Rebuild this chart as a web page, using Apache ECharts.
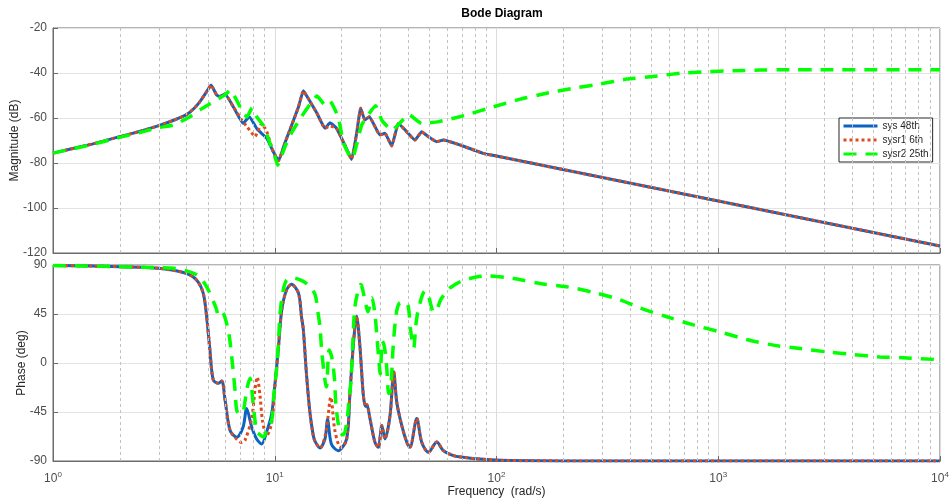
<!DOCTYPE html>
<html><head><meta charset="utf-8">
<script src="https://cdn.jsdelivr.net/npm/echarts@6/dist/echarts.min.js"></script>
<style>html,body{margin:0;padding:0;background:#fff}#c{width:951px;height:504px}</style>
</head><body><div id="c"></div>
<script>
// ---- data (frequency rad/s, value) ----
const seriesNames = ['sys 48th', 'sysr1 6th', 'sysr2 25th'];
const yTicksMag = [-120, -100, -80, -60, -40, -20];
const yTicksPhase = [-90, -45, 0, 45, 90];
const minorFreqs = [2,3,4,5,6,7,8,9,20,30,40,50,60,70,80,90,200,300,400,500,600,700,800,900,2000,3000,4000,5000,6000,7000,8000,9000];

const sysMag = [[1,-75.6],[1.5,-71.6],[2,-68.3],[2.5,-65.8],[3,-63.4],[3.5,-61],[4,-58.5],[4.3,-56],[4.6,-52.7],[4.93,-48.3],[5.16,-45.3],[5.47,-49.8],[5.66,-50.5],[5.97,-49.3],[6.5,-55],[7.2,-62.4],[7.68,-59.4],[8.34,-65],[9.2,-69],[9.85,-75],[10.4,-79],[11.1,-71.2],[11.7,-65.3],[12.8,-55],[13.45,-47.9],[14.1,-51],[15.5,-57.9],[16.85,-64.6],[17.75,-62.1],[19,-64.6],[20.7,-72],[22.2,-78.4],[23.4,-66.8],[24.4,-55.7],[25.5,-60.9],[26.7,-59.4],[29.8,-67.6],[31.4,-66.8],[33.7,-72.4],[36.1,-62.4],[38.7,-65.3],[42.9,-69.8],[46,-66.1],[49.3,-68.3],[53.8,-70.5],[57.6,-69.8],[68.5,-72],[87,-75.7],[100,-76.9],[1000,-96.9],[10000,-116.9]];

const sysr1Mag = [[1,-75.6],[1.5,-71.6],[2,-68.3],[2.5,-65.8],[3,-63.4],[3.5,-61],[4,-58.5],[4.3,-56],[4.6,-52.7],[4.93,-48.3],[5.16,-45.3],[5.47,-49.8],[5.66,-50.5],[5.97,-49.3],[6.5,-55],[7.1,-60.9],[7.5,-63.9],[8.15,-68.3],[8.73,-62.4],[9.2,-66],[9.85,-75],[10.4,-79],[11.1,-71.2],[11.7,-65.3],[12.8,-55],[13.45,-47.9],[14.1,-51],[15.5,-57.9],[16.85,-64.6],[17.75,-63.5],[19,-64.6],[20.7,-72],[22.2,-78.4],[23.4,-66.8],[24.4,-55.7],[25.5,-60.9],[26.7,-59.4],[29.8,-67.6],[31.4,-66.8],[33.7,-72.4],[36.1,-62.4],[38.7,-65.3],[42.9,-69.8],[46,-66.1],[49.3,-68.3],[53.8,-70.5],[57.6,-69.8],[68.5,-72],[87,-75.7],[100,-76.9],[1000,-96.9],[10000,-116.9]];

const sysr2Mag = [[1,-75.6],[1.5,-71.8],[2,-68.6],[2.5,-66.3],[3,-64.3],[3.5,-63.1],[4.15,-59.4],[4.6,-56.4],[5,-54.2],[5.47,-52],[6,-49.5],[6.3,-47.5],[6.85,-53.5],[7.2,-58],[7.5,-59.5],[7.9,-55.5],[8.3,-59.5],[8.9,-63.5],[9.5,-71],[10,-77],[10.3,-81],[11.2,-72],[12,-66],[13.2,-59.4],[14.5,-53.5],[15.5,-50.2],[16.85,-54.2],[17.75,-52.5],[19.3,-59.4],[20.4,-71],[21.8,-77],[22.4,-78],[24.7,-63],[28.5,-54.5],[30.4,-61],[33.7,-65.5],[40.3,-58.5],[46,-62.5],[55,-61.6],[73,-58.7],[97,-55],[128,-51.6],[168,-49],[221,-46.8],[293,-44.9],[387,-42.7],[508,-41.6],[672,-40.1],[887,-39.4],[1165,-39],[1543,-38.7],[2036,-38.5],[3000,-38.5],[10000,-38.5]];

const sysPhase = [[1,89.5],[1.5,89],[2,88.5],[3,87],[3.98,82.4],[4.45,76],[4.76,64],[4.93,42.5],[5.1,12],[5.28,-15.6],[5.57,-18.7],[5.77,-16.5],[5.97,-34],[6.29,-62],[6.74,-68.2],[7.2,-58.7],[7.47,-41.7],[7.87,-58.7],[8.3,-70],[8.73,-74.4],[9.2,-63],[9.69,-46.4],[10.03,-18.7],[10.37,12],[10.75,48.6],[11.3,67],[11.9,72.3],[12.8,64],[13.2,42.5],[13.45,31],[13.9,-10],[14.4,-45],[14.9,-66],[15.2,-72],[16,-78],[16.85,-69.7],[17.3,-52],[18,-74.4],[19.3,-80.5],[21.1,-69.7],[21.8,-30],[22.6,16],[23.4,43],[24.2,16],[25.1,-30],[25.7,-40],[26,-38],[26.9,-51.4],[28.3,-72.8],[29.3,-77.4],[30.4,-57.5],[31.4,-69.7],[33.1,-48.3],[34.4,-8],[35.5,-36],[37.4,-57.5],[39.4,-72.8],[40.7,-77.4],[43.7,-51],[46,-72.8],[49.3,-82],[53.8,-72.5],[57.6,-80.5],[63.9,-85],[70.6,-86.5],[81,-88],[104,-89.4],[200,-89.9],[1000,-90],[10000,-90]];

const sysr1Phase = [[1,89.5],[1.5,89],[2,88.5],[3,87],[3.98,82.4],[4.45,76],[4.76,64],[4.93,42.5],[5.1,12],[5.28,-15.6],[5.57,-18.7],[5.77,-16.5],[5.97,-34],[6.29,-62],[6.74,-70],[7.1,-73],[7.34,-71],[7.87,-51],[8.15,-24],[8.34,-13],[8.58,-30],[8.82,-54],[9.2,-66.6],[9.69,-55],[10.03,-20],[10.37,12],[10.75,48.6],[11.3,67],[11.9,72.3],[12.8,64],[13.2,42.5],[13.45,31],[13.9,-10],[14.4,-45],[14.9,-66],[15.2,-72],[16,-78],[17,-64],[17.9,-31.5],[18.6,-60],[19.4,-75],[20.05,-77.5],[21.1,-70],[21.8,-30],[22.6,16],[23.4,43],[24.2,16],[25.1,-30],[25.7,-40],[26,-38],[26.9,-51.4],[28.3,-72.8],[29.3,-77.4],[30.4,-57.5],[31.4,-69.7],[33.1,-48.3],[34.4,-8],[35.5,-36],[37.4,-57.5],[39.4,-72.8],[40.7,-77.4],[43.7,-51],[46,-72.8],[49.3,-82],[53.8,-72.5],[57.6,-80.5],[63.9,-85],[70.6,-86.5],[81,-88],[104,-89.4],[200,-89.9],[1000,-90],[10000,-90]];

const sysr2Phase = [[1,89.5],[2,88.5],[3,87.5],[3.5,87],[4.45,81],[4.93,70],[5.45,50],[5.57,44],[5.77,47],[6.17,30],[6.4,5],[6.62,-25],[6.74,-43.5],[6.97,-47],[7.2,-45],[7.47,-25],[7.73,-14],[8,-38],[8.29,-63],[8.6,-66],[8.88,-68],[9.2,-62],[9.69,-52.6],[9.9,-30],[10.2,-5],[10.4,20],[10.56,45],[10.9,66],[11.3,76],[12.1,78],[13.45,75],[14.4,70],[15.2,63],[15.7,45],[16,33],[16.3,10],[16.85,-16],[17.1,-22],[17.6,12],[18.1,5],[18.6,-15],[18.9,-40],[19.7,-64],[20.4,-66],[21.1,-55],[21.6,-35],[22.1,-15],[22.5,20],[23,52],[24,70],[24.4,72],[25.5,58],[26.3,47],[27.4,60],[28.3,45],[29,20],[29.5,2],[29.9,-10],[30.6,20],[31.4,12],[32,-5],[32.7,-28],[33.3,-25],[34.2,15],[35.3,45],[36.5,55],[38.7,56],[40,52],[41,30],[42.3,14],[43.3,35],[44.5,50],[47.6,66],[49.3,62],[51.5,48],[53,47],[56,58],[61,68],[65,72],[70,75.5],[81,79],[90,80],[119,77.7],[157,73],[207,70],[272,65],[361,58],[444,50.5],[586,42.5],[772,35],[1018,28.6],[1344,21.6],[1772,16.4],[2338,13.3],[3084,10.2],[4066,7.8],[5362,5.6],[7077,4.7],[10000,3]];

// ---- styles ----
const C_BLUE = '#0d63bf', C_RED = '#dd4a1f', C_GREEN = '#00ff00';
const AX = '#6b6b6b';
const styles = [
  {color: C_BLUE, width: 3, type: 'solid'},
  {color: C_RED, width: 3, type: [3, 3]},
  {color: C_GREEN, width: 3.5, type: [13, 9]}
];

function xAxisCfg(gi, showLabels) {
  const a = {
    type: 'log', logBase: 10, min: 1, max: 10000, gridIndex: gi,
    axisLine: {show: true, onZero: false, lineStyle: {color: AX}},
    axisTick: {show: true, inside: true, length: 5, lineStyle: {color: AX}},
    splitLine: {show: true, lineStyle: {color: '#dcdcdc', width: 1}},
    axisLabel: {show: showLabels}
  };
  if (showLabels) {
    a.axisLabel = {
      show: true, margin: 10,
      formatter: function (v) { return '{b|10}{s|' + Math.round(Math.log10(v)) + '}'; },
      rich: {
        b: {fontSize: 12, color: '#4d4d4d', fontFamily: 'Liberation Sans'},
        s: {fontSize: 8, color: '#4d4d4d', fontFamily: 'Liberation Sans', padding: [0, 0, 8, 0]}
      }
    };
    a.name = 'Frequency  (rad/s)';
    a.nameLocation = 'middle';
    a.nameGap = 25;
    a.nameMoveOverlap = false;
    a.nameTextStyle = {fontSize: 12, color: '#262626', fontFamily: 'Liberation Sans'};
  }
  return a;
}

function yAxisCfg(gi, ticks, name, gap) {
  return {
    type: 'value', gridIndex: gi, min: ticks[0], max: ticks[ticks.length - 1],
    interval: ticks[1] - ticks[0],
    axisLine: {show: true, onZero: false, lineStyle: {color: AX}},
    axisTick: {show: true, inside: true, length: 5, lineStyle: {color: AX}},
    axisLabel: {color: '#4d4d4d', fontSize: 12, margin: 6, fontFamily: 'Liberation Sans'},
    splitLine: {show: true, lineStyle: {color: '#e3e3e3'}},
    name: name, nameLocation: 'middle', nameGap: gap, nameMoveOverlap: false,
    nameTextStyle: {fontSize: 12, color: '#262626', fontFamily: 'Liberation Sans'}
  };
}

function gridLineSeries(gi) {
  return {
    type: 'line', xAxisIndex: gi, yAxisIndex: gi, data: [], silent: true, z: 1,
    markLine: {
      silent: true, symbol: ['none', 'none'], label: {show: false}, animation: false,
      lineStyle: {color: '#c2c2c2', width: 1, type: [3, 3]},
      data: minorFreqs.map(f => ({xAxis: f}))
    }
  };
}

function lineSeries(idx, data, gi) {
  return {
    name: seriesNames[idx], type: 'line', xAxisIndex: gi, yAxisIndex: gi,
    data: data, symbol: 'none', showSymbol: false, silent: true, z: 3 + idx,
    smooth: gi === 1 ? 0.3 : 0.12,
    lineStyle: Object.assign({cap: 'butt'}, styles[idx]),
    itemStyle: {color: styles[idx].color}
  };
}

const option = {
  animation: false,
  backgroundColor: '#ffffff',
  textStyle: {fontFamily: 'Liberation Sans, Arial, sans-serif'},
  title: {
    text: 'Bode Diagram', left: 497, top: 3, textAlign: 'center',
    textStyle: {fontSize: 12, fontWeight: 'bold', color: '#000', fontFamily: 'Liberation Sans'}
  },
  legend: {
    orient: 'vertical', left: 839, top: 118, itemWidth: 34, itemHeight: 10, itemGap: 4,
    padding: [3, 4, 3, 3], borderColor: '#262626', borderWidth: 1, backgroundColor: '#fff',
    textStyle: {fontSize: 10, color: '#262626', fontFamily: 'Liberation Sans'},
    itemStyle: {opacity: 0, borderWidth: 0},
    lineStyle: {width: 3},
    data: seriesNames
  },
  grid: [
    {left: 53, top: 28, width: 887, height: 225, show: true, borderColor: AX, borderWidth: 1, backgroundColor: '#fff', containLabel: false, outerBoundsMode: 'none'},
    {left: 53, top: 265, width: 887, height: 196, show: true, borderColor: AX, borderWidth: 1, backgroundColor: '#fff', containLabel: false, outerBoundsMode: 'none'}
  ],
  xAxis: [xAxisCfg(0, false), xAxisCfg(1, true)],
  yAxis: [yAxisCfg(0, yTicksMag, 'Magnitude (dB)', 32), yAxisCfg(1, yTicksPhase, 'Phase (deg)', 25)],
  series: [
    gridLineSeries(0), gridLineSeries(1),
    lineSeries(0, sysMag, 0), lineSeries(1, sysr1Mag, 0), lineSeries(2, sysr2Mag, 0),
    lineSeries(0, sysPhase, 1), lineSeries(1, sysr1Phase, 1), lineSeries(2, sysr2Phase, 1)
  ]
};

const chart = echarts.init(document.getElementById('c'), null, {renderer: 'canvas'});
chart.setOption(option);
</script>
</body></html>
